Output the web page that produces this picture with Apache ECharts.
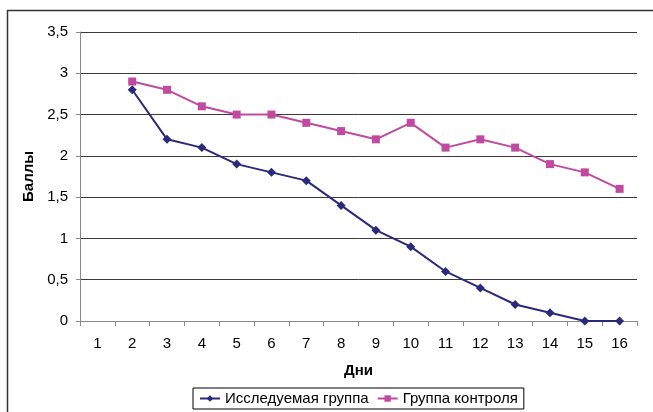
<!DOCTYPE html>
<html><head><meta charset="utf-8">
<script src="https://cdn.jsdelivr.net/npm/echarts@6/dist/echarts.min.js"></script>
<style>html,body{margin:0;padding:0;background:#fff}#c{width:653px;height:412px}</style>
</head><body><div id="c"></div>
<script>
const categories = ['1','2','3','4','5','6','7','8','9','10','11','12','13','14','15','16'];
const studyGroup = [null, 2.8, 2.2, 2.1, 1.9, 1.8, 1.7, 1.4, 1.1, 0.9, 0.6, 0.4, 0.2, 0.1, 0, 0];
const controlGroup = [null, 2.9, 2.8, 2.6, 2.5, 2.5, 2.4, 2.3, 2.2, 2.4, 2.1, 2.2, 2.1, 1.9, 1.8, 1.6];
const seriesNames = ['Исследуемая группа', 'Группа контроля'];
const yTicks = [0, 0.5, 1, 1.5, 2, 2.5, 3, 3.5];

const font = 'Arial, "Liberation Sans", sans-serif';
const chart = echarts.init(document.getElementById('c'), null, {renderer: 'canvas'});
chart.setOption({
  animation: false,
  backgroundColor: '#fff',
  graphic: [{
    type: 'rect', silent: true,
    shape: {x: 7.5, y: 10.5, width: 700, height: 500},
    style: {fill: 'none', stroke: '#333', lineWidth: 1.5}
  }],
  grid: {left: 80, right: 16, top: 32, bottom: 91, containLabel: false},
  legend: {
    left: 193, top: 388,
    data: seriesNames,
    itemWidth: 20, itemHeight: 8, itemGap: 8,
    padding: [3, 6, 3, 6],
    borderColor: '#000', borderWidth: 1,
    textStyle: {fontFamily: font, fontSize: 15, color: '#000'}
  },
  xAxis: {
    type: 'category',
    data: categories,
    boundaryGap: true,
    name: 'Дни', nameLocation: 'middle', nameGap: 42,
    nameTextStyle: {fontFamily: font, fontSize: 15, fontWeight: 'bold', color: '#000'},
    axisLine: {lineStyle: {color: '#888', width: 1}},
    axisTick: {show: true, alignWithLabel: false, length: 5, lineStyle: {color: '#888'}},
    axisLabel: {fontFamily: font, fontSize: 15, color: '#000', margin: 15, interval: 0},
    splitLine: {show: false}
  },
  yAxis: {
    type: 'value',
    min: 0, max: 3.5, interval: 0.5,
    name: 'Баллы', nameLocation: 'middle', nameGap: 42,
    nameTextStyle: {fontFamily: font, fontSize: 15, fontWeight: 'bold', color: '#000'},
    axisLine: {show: true, lineStyle: {color: '#888', width: 1}},
    axisTick: {show: true, length: 4, lineStyle: {color: '#888'}},
    axisLabel: {fontFamily: font, fontSize: 15, color: '#000', margin: 12,
      formatter: v => String(v).replace('.', ',')},
    splitLine: {show: true, lineStyle: {color: '#3a3a3a', width: 1}}
  },
  series: [{
    name: seriesNames[0], type: 'line', data: studyGroup,
    symbol: 'diamond', symbolSize: 9,
    itemStyle: {color: '#2a2a7c'},
    lineStyle: {color: '#2a2a7c', width: 2}
  }, {
    name: seriesNames[1], type: 'line', data: controlGroup,
    symbol: 'rect', symbolSize: 8,
    itemStyle: {color: '#c04aa0'},
    lineStyle: {color: '#c04aa0', width: 2}
  }]
});
</script></body></html>
